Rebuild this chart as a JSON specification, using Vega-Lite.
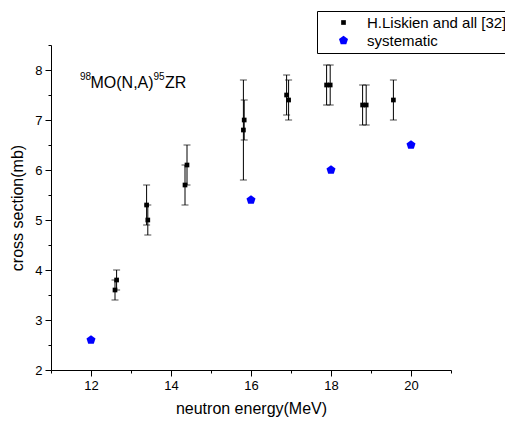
{
  "$schema": "https://vega.github.io/schema/vega-lite/v6.json",
  "width": 400,
  "height": 325,
  "autosize": "none",
  "padding": {"left": 51, "top": 45, "right": 54, "bottom": 55},
  "config": {
    "view": {"stroke": null},
    "font": "Liberation Sans",
    "axis": {
      "domainColor": "black",
      "tickColor": "black",
      "labelColor": "black",
      "titleColor": "black",
      "labelFont": "Liberation Sans",
      "titleFont": "Liberation Sans",
      "labelFontSize": 13,
      "titleFontSize": 16,
      "titleFontWeight": "normal",
      "grid": false
    }
  },
  "datasets": {
    "points": [
      {"energy": 12.6, "xs": 3.6, "lo": 3.4, "hi": 3.8, "series": "H.Liskien and all [32]"},
      {"energy": 12.64, "xs": 3.8, "lo": 3.6, "hi": 4.0, "series": "H.Liskien and all [32]"},
      {"energy": 13.39, "xs": 5.3, "lo": 4.9, "hi": 5.7, "series": "H.Liskien and all [32]"},
      {"energy": 13.42, "xs": 5.0, "lo": 4.7, "hi": 5.3, "series": "H.Liskien and all [32]"},
      {"energy": 14.35, "xs": 5.7, "lo": 5.3, "hi": 6.1, "series": "H.Liskien and all [32]"},
      {"energy": 14.4, "xs": 6.1, "lo": 5.7, "hi": 6.5, "series": "H.Liskien and all [32]"},
      {"energy": 15.81, "xs": 6.8, "lo": 5.8, "hi": 7.8, "series": "H.Liskien and all [32]"},
      {"energy": 15.83, "xs": 7.0, "lo": 6.6, "hi": 7.4, "series": "H.Liskien and all [32]"},
      {"energy": 16.89, "xs": 7.5, "lo": 7.1, "hi": 7.9, "series": "H.Liskien and all [32]"},
      {"energy": 16.94, "xs": 7.4, "lo": 7.0, "hi": 7.8, "series": "H.Liskien and all [32]"},
      {"energy": 17.89, "xs": 7.7, "lo": 7.3, "hi": 8.1, "series": "H.Liskien and all [32]"},
      {"energy": 17.98, "xs": 7.7, "lo": 7.3, "hi": 8.1, "series": "H.Liskien and all [32]"},
      {"energy": 18.79, "xs": 7.3, "lo": 6.9, "hi": 7.7, "series": "H.Liskien and all [32]"},
      {"energy": 18.88, "xs": 7.3, "lo": 6.9, "hi": 7.7, "series": "H.Liskien and all [32]"},
      {"energy": 19.56, "xs": 7.4, "lo": 7.0, "hi": 7.8, "series": "H.Liskien and all [32]"},
      {"energy": 12, "xs": 2.6, "series": "systematic"},
      {"energy": 16, "xs": 5.4, "series": "systematic"},
      {"energy": 18, "xs": 6.0, "series": "systematic"},
      {"energy": 20, "xs": 6.5, "series": "systematic"}
    ],
    "note": [
      {"energy": 11.725, "xs": 7.634, "mass1": "98", "part1": "MO(N,A)", "mass2": "95", "part2": "ZR"}
    ]
  },
  "resolve": {"axis": {"x": "independent", "y": "independent"}},
  "layer": [
    {
      "data": {"name": "points"},
      "transform": [{"filter": {"field": "series", "equal": "systematic"}}],
      "mark": {"type": "point", "opacity": 0},
      "encoding": {
        "x": {
          "field": "energy", "type": "quantitative",
          "scale": {"domain": [11, 21], "nice": false, "zero": false},
          "axis": {"orient": "bottom", "values": [11, 13, 15, 17, 19, 21], "tickSize": 3, "labels": false, "domain": false, "title": null}
        },
        "y": {
          "field": "xs", "type": "quantitative",
          "scale": {"domain": [2, 8.5], "nice": false, "zero": false},
          "axis": {"orient": "left", "values": [2.5, 3.5, 4.5, 5.5, 6.5, 7.5, 8.5], "tickSize": 3, "labels": false, "domain": false, "title": null}
        }
      }
    },
    {
      "data": {"name": "points"},
      "transform": [{"filter": {"field": "series", "equal": "H.Liskien and all [32]"}}],
      "mark": {"type": "rule", "color": "black", "strokeWidth": 1},
      "encoding": {
        "x": {
          "field": "energy", "type": "quantitative",
          "axis": {"orient": "bottom", "values": [12, 14, 16, 18, 20], "tickSize": 6, "labelPadding": 3, "title": "neutron energy(MeV)", "titlePadding": 8}
        },
        "y": {
          "field": "lo", "type": "quantitative",
          "axis": {"orient": "left", "values": [2, 3, 4, 5, 6, 7, 8], "tickSize": 6, "labelPadding": 3, "title": "cross section(mb)", "titlePadding": 9}
        },
        "y2": {"field": "hi"}
      }
    },
    {
      "data": {"name": "points"},
      "transform": [{"filter": {"field": "series", "equal": "H.Liskien and all [32]"}}],
      "mark": {"type": "tick", "orient": "horizontal", "color": "black", "size": 7, "thickness": 1},
      "encoding": {
        "x": {"field": "energy", "type": "quantitative", "axis": null},
        "y": {"field": "lo", "type": "quantitative", "axis": null}
      }
    },
    {
      "data": {"name": "points"},
      "transform": [{"filter": {"field": "series", "equal": "H.Liskien and all [32]"}}],
      "mark": {"type": "tick", "orient": "horizontal", "color": "black", "size": 7, "thickness": 1},
      "encoding": {
        "x": {"field": "energy", "type": "quantitative", "axis": null},
        "y": {"field": "hi", "type": "quantitative", "axis": null}
      }
    },
    {
      "data": {"name": "points"},
      "mark": {"type": "point", "filled": true, "opacity": 1},
      "encoding": {
        "x": {"field": "energy", "type": "quantitative", "axis": null},
        "y": {"field": "xs", "type": "quantitative", "axis": null},
        "color": {
          "field": "series", "type": "nominal",
          "scale": {"domain": ["H.Liskien and all [32]", "systematic"], "range": ["black", "#0000ff"]},
          "legend": {
            "orient": "none", "legendX": 266, "legendY": -34,
            "title": null, "strokeColor": "black", "fillColor": "white",
            "padding": 4, "labelFontSize": 15, "labelFont": "Liberation Sans", "labelColor": "black",
            "symbolOffset": 15, "labelOffset": 16, "rowPadding": 2, "symbolStrokeWidth": 0
          }
        },
        "shape": {
          "field": "series", "type": "nominal",
          "scale": {"domain": ["H.Liskien and all [32]", "systematic"], "range": ["square", "M0,-1L0.951,-0.309L0.588,0.809L-0.588,0.809L-0.951,-0.309Z"]}
        },
        "size": {
          "field": "series", "type": "nominal",
          "scale": {"domain": ["H.Liskien and all [32]", "systematic"], "range": [22, 90]}
        }
      }
    },
    {
      "data": {"name": "note"},
      "mark": {"type": "text", "align": "left", "baseline": "alphabetic", "fontSize": 10, "dy": -8.5, "font": "Liberation Sans", "color": "black"},
      "encoding": {
        "x": {"field": "energy", "type": "quantitative", "axis": null},
        "y": {"field": "xs", "type": "quantitative", "axis": null},
        "text": {"field": "mass1"}
      }
    },
    {
      "data": {"name": "note"},
      "mark": {"type": "text", "align": "left", "baseline": "alphabetic", "fontSize": 16, "dx": 10.5, "font": "Liberation Sans", "color": "black"},
      "encoding": {
        "x": {"field": "energy", "type": "quantitative", "axis": null},
        "y": {"field": "xs", "type": "quantitative", "axis": null},
        "text": {"field": "part1"}
      }
    },
    {
      "data": {"name": "note"},
      "mark": {"type": "text", "align": "left", "baseline": "alphabetic", "fontSize": 10, "dx": 73.5, "dy": -8.5, "font": "Liberation Sans", "color": "black"},
      "encoding": {
        "x": {"field": "energy", "type": "quantitative", "axis": null},
        "y": {"field": "xs", "type": "quantitative", "axis": null},
        "text": {"field": "mass2"}
      }
    },
    {
      "data": {"name": "note"},
      "mark": {"type": "text", "align": "left", "baseline": "alphabetic", "fontSize": 16, "dx": 85, "font": "Liberation Sans", "color": "black"},
      "encoding": {
        "x": {"field": "energy", "type": "quantitative", "axis": null},
        "y": {"field": "xs", "type": "quantitative", "axis": null},
        "text": {"field": "part2"}
      }
    }
  ]
}
